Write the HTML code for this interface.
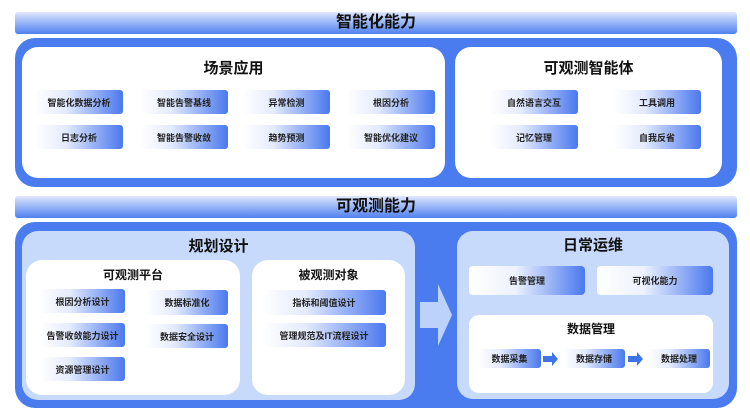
<!DOCTYPE html>
<html><head><meta charset="utf-8"><style>
*{margin:0;padding:0;box-sizing:border-box}
body{width:750px;height:417px;background:#fff;position:relative;overflow:hidden;font-family:"Liberation Sans","Noto Sans CJK SC",sans-serif;font-weight:bold;color:#1a1a1a}
div{position:absolute}
.bar{left:15px;width:722px;height:22px;border-radius:3px;background:linear-gradient(#dfe8fd,#4f80f0);font-size:16px;text-align:center;line-height:22px;color:#111}
.outer{background:#4a7cf0;border-radius:20px}
.w{background:#fff;border-radius:16px}
.lb{background:#c7dafb;border-radius:16px}
.t{width:100%;text-align:center;color:#111}
.it{border-radius:3px;background:linear-gradient(90deg,rgba(255,255,255,0) 0%,#e4ebfd 35%,#4a78ee 100%);font-size:9px;text-align:center;color:#222;display:flex;align-items:center;justify-content:center}
.it2{border-radius:4px;background:linear-gradient(90deg,#fff 0%,#edf2fe 40%,#4a78ee 100%);font-size:9px;color:#222;display:flex;align-items:center;justify-content:center}
.ar{width:0;height:0}
</style></head><body>
<div class="bar" style="top:12px">智能化能力</div>
<div class="outer" style="left:15px;top:38px;width:722px;height:149px"></div>
<div class="w" style="left:22px;top:47px;width:423px;height:131px"><div class="t" style="top:10px;font-size:15px">场景应用</div></div>
<div class="w" style="left:455px;top:47px;width:267px;height:131px"><div class="t" style="top:10px;font-size:15px">可观测智能体</div></div>
<div class="it" style="left:35px;top:90px;width:88px;height:24px">智能化数据分析</div>
<div class="it" style="left:140px;top:90px;width:88px;height:24px">智能告警基线</div>
<div class="it" style="left:243px;top:90px;width:87px;height:24px">异常检测</div>
<div class="it" style="left:347px;top:90px;width:88px;height:24px">根因分析</div>
<div class="it" style="left:35px;top:125px;width:88px;height:24px">日志分析</div>
<div class="it" style="left:140px;top:125px;width:88px;height:24px">智能告警收敛</div>
<div class="it" style="left:243px;top:125px;width:87px;height:24px">趋势预测</div>
<div class="it" style="left:347px;top:125px;width:88px;height:24px">智能优化建议</div>
<div class="it" style="left:490px;top:90px;width:88px;height:24px">自然语言交互</div>
<div class="it" style="left:613px;top:90px;width:88px;height:24px">工具调用</div>
<div class="it" style="left:490px;top:125px;width:88px;height:24px">记忆管理</div>
<div class="it" style="left:613px;top:125px;width:88px;height:24px">自我反省</div>

<div class="bar" style="top:196px">可观测能力</div>
<div class="outer" style="left:15px;top:222px;width:722px;height:186px"></div>
<div class="lb" style="left:22px;top:231px;width:393px;height:169px"><div class="t" style="top:4px;font-size:15px">规划设计</div></div>
<div class="w" style="left:26px;top:260px;width:214px;height:135px"><div class="t" style="top:6px;font-size:12px">可观测平台</div></div>
<div class="w" style="left:252px;top:260px;width:153px;height:135px"><div class="t" style="top:6px;font-size:12px">被观测对象</div></div>
<div class="it" style="left:40px;top:289px;width:85px;height:24px">根因分析设计</div>
<div class="it" style="left:146px;top:290px;width:82px;height:25px">数据标准化</div>
<div class="it" style="left:40px;top:323px;width:85px;height:24px">告警收敛能力设计</div>
<div class="it" style="left:146px;top:324px;width:82px;height:24px">数据安全设计</div>
<div class="it" style="left:40px;top:357px;width:85px;height:24px">资源管理设计</div>
<div class="it" style="left:262px;top:290px;width:124px;height:25px">指标和阈值设计</div>
<div class="it" style="left:262px;top:323px;width:124px;height:24px">管理规范及IT流程设计</div>

<svg style="position:absolute;left:418px;top:282px" width="36" height="66"><polygon points="2,20 20,20 20,2 34,33 20,64 20,46 2,46" fill="#bcd2fb"/></svg>

<div class="lb" style="left:457px;top:231px;width:272px;height:168px"><div class="t" style="top:3px;font-size:15px">日常运维</div></div>
<div class="it2" style="left:469px;top:266px;width:116px;height:29px">告警管理</div>
<div class="it2" style="left:597px;top:266px;width:116px;height:29px">可视化能力</div>
<div class="w" style="left:469px;top:315px;width:244px;height:78px;border-radius:10px"><div class="t" style="top:5px;font-size:12px">数据管理</div></div>
<div class="it" style="left:478px;top:349px;width:63px;height:19px">数据采集</div>
<div class="it" style="left:563px;top:349px;width:62px;height:19px">数据存储</div>
<div class="it" style="left:648px;top:349px;width:62px;height:19px">数据处理</div>
<svg style="position:absolute;left:543px;top:352px" width="16" height="14"><polygon points="0,4 9,4 9,0 15,7 9,14 9,10 0,10" fill="#3f74e8"/></svg>
<svg style="position:absolute;left:628px;top:352px" width="16" height="14"><polygon points="0,4 9,4 9,0 15,7 9,14 9,10 0,10" fill="#3f74e8"/></svg>
</body></html>
